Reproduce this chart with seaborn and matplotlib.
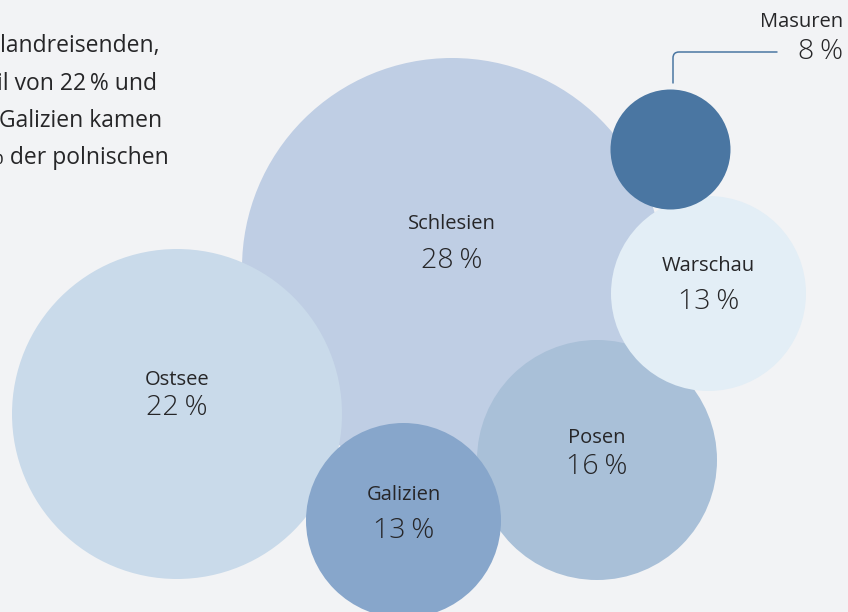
import matplotlib
matplotlib.use("Agg")
import matplotlib.pyplot as plt
import seaborn as sns
import pandas as pd

# data: share of travellers by region (percent)
regions = ["Schlesien", "Ostsee", "Posen", "Galizien", "Warschau", "Masuren"]
shares = [28, 22, 16, 13, 13, 8]

# bubble layout (pixel space of the 848x612 canvas)
center_x = [452, 177, 597, 403.5, 708.5, 670.5]
center_y = [268, 414, 460, 520.5, 293.5, 149.5]
colors = ["#BFCEE4", "#C9DAEA", "#A9C0D8", "#87A6CB", "#E3EEF6", "#4A76A2"]

# label anchors (name line, percent line)
name_y = [224, 380, 438, 495, 266]
pct_y = [261, 408, 467, 531, 302]

intro_lines = ["landreisenden,", "il von 22\u2009% und", "Galizien kamen", "% der polnischen"]
intro_right = [160, 157, 162, 169]
intro_base = [52, 89.5, 127, 164.5]

px_per_pct = 7.5
bg = "#F2F3F5"
ink = "#262628"

sns.set_theme(style="white")
plt.rcParams["font.family"] = ["Open Sans", "DejaVu Sans"]

df = pd.DataFrame({"region": regions, "share": shares, "x": center_x, "y": center_y})
df["radius"] = df["share"] * px_per_pct
df["s"] = (2 * df["radius"] * 72 / 100) ** 2

fig = plt.figure(figsize=(8.48, 6.12), dpi=100, facecolor=bg)
ax = fig.add_axes([0, 0, 1, 1])
ax.set_facecolor(bg)

sns.scatterplot(data=df, x="x", y="y", hue="region", palette=dict(zip(regions, colors)),
                s=df["s"].values, linewidth=0, alpha=1, legend=False, ax=ax)

ax.set_xlim(0, 848)
ax.set_ylim(612, 0)
ax.axis("off")

# labels inside the bubbles
for i, row in df.iloc[:5].iterrows():
    ax.text(row["x"], name_y[i], row["region"], ha="center", va="center",
            fontsize=14.5, color=ink)
    ax.text(row["x"], pct_y[i], f"{row['share']}\u2009%", ha="center", va="center",
            fontsize=20.5, fontweight="light", color=ink)

# Masuren: outside label with leader line
ax.text(843, 22, "Masuren", ha="right", va="center", fontsize=14.5, color=ink)
ax.text(843, 52, f"{shares[5]}\u2009%", ha="right", va="center", fontsize=20.5,
        fontweight="light", color=ink)
ax.annotate("", xy=(673, 83), xytext=(777, 52),
            arrowprops=dict(arrowstyle="-", color="#4A76A2", lw=1.1,
                            connectionstyle="angle,angleA=180,angleB=90,rad=6",
                            shrinkA=0, shrinkB=0))

# clipped intro paragraph at top left
for line, xr, yb in zip(intro_lines, intro_right, intro_base):
    ax.text(xr, yb, line, ha="right", va="baseline", fontsize=16.5, color=ink)

fig.savefig("out.png", dpi=100, facecolor=bg)
